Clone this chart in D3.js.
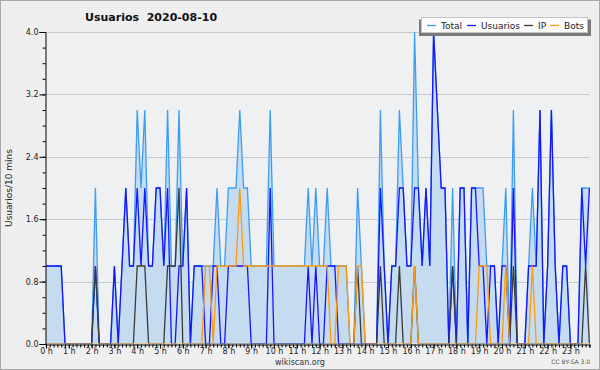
<!DOCTYPE html>
<html><head><meta charset="utf-8">
<script src="https://cdn.jsdelivr.net/npm/d3@7/dist/d3.min.js"></script>
<style>
html,body{margin:0;padding:0;background:#efefef;}
svg{display:block;font-family:"DejaVu Sans",sans-serif;}
</style></head><body>
<svg id="chart" width="600" height="370"></svg>
<script>
// ---- data (one value per 10 minutes, 144 slots) ----
const hourLabels = ["0 h","1 h","2 h","3 h","4 h","5 h","6 h","7 h","8 h","9 h","10 h","11 h",
  "12 h","13 h","14 h","15 h","16 h","17 h","18 h","19 h","20 h","21 h","22 h","23 h"];
const yTicks = [0, 0.8, 1.6, 2.4, 3.2, 4.0];
const seriesNames = ["Total", "Usuarios", "IP", "Bots"];

const total = [
  1,1,1,1,1,0,0,0,0,0,0,0, 0,2,0,0,0,0,1,0,1,2,1,1,
  3,2,3,1,1,2,2,1,3,1,1,3, 1,2,0,1,1,1,1,1,1,2,1,1,
  2,2,2,3,2,2,1,1,1,1,1,3, 1,1,1,1,1,1,1,1,1,2,1,2,
  1,1,2,1,1,1,1,1,0,0,2,1, 0,0,0,0,3,1,0,1,1,3,2,1,
  1,4,2,1,2,1,4,3,2,2,0,2, 0,2,2,0,2,2,2,2,1,1,1,0,
  1,2,0,3,0,0,0,1,2,1,3,0, 1,3,1,0,1,1,0,0,0,2,2,2
];
const usuarios = [
  1,1,1,1,1,0,0,0,0,0,0,0, 0,1,0,0,0,0,1,0,1,2,1,1,
  2,1,2,1,1,2,2,1,2,0,0,1, 1,2,0,1,1,1,0,0,1,1,0,0,
  1,1,1,1,1,1,0,0,0,0,0,2, 0,0,0,0,0,0,0,0,0,1,0,1,
  0,0,1,1,1,0,0,0,0,0,0,0, 0,0,0,0,2,1,0,1,1,2,2,1,
  1,2,2,1,2,1,4,3,2,2,0,1, 0,2,2,0,2,2,1,1,0,1,1,0,
  1,1,0,2,0,0,0,1,1,1,3,0, 1,3,1,0,1,1,0,0,0,2,1,2
];
const ip = [
  0,0,0,0,0,0,0,0,0,0,0,0, 0,1,0,0,0,0,0,0,0,0,0,0,
  1,1,1,0,0,0,0,0,1,1,1,2, 0,0,0,0,0,0,0,0,0,0,0,0,
  0,0,0,0,0,0,0,0,0,0,0,0, 0,0,0,0,0,0,0,0,0,0,0,0,
  0,0,0,0,0,0,0,0,0,0,1,0, 0,0,0,0,1,0,0,0,0,1,0,0,
  0,1,0,0,0,0,0,0,0,0,0,1, 0,0,0,0,0,0,0,0,0,0,0,0,
  0,0,0,1,0,0,0,0,0,0,0,0, 0,0,0,0,0,0,0,0,0,0,1,0
];
const bots = [
  0,0,0,0,0,0,0,0,0,0,0,0, 0,0,0,0,0,0,0,0,0,0,0,0,
  0,0,0,0,0,0,0,0,0,0,0,0, 0,0,0,0,0,0,1,1,0,1,1,1,
  1,1,1,2,1,1,1,1,1,1,1,1, 1,1,1,1,1,1,1,1,1,1,1,1,
  1,1,1,0,0,1,1,1,0,0,1,1, 0,0,0,0,0,0,0,0,0,0,0,0,
  0,1,0,0,0,0,0,0,0,0,0,0, 0,0,0,0,0,0,1,1,1,0,0,0,
  0,1,0,0,0,0,0,0,1,0,0,0, 0,0,0,0,0,0,0,0,0,0,0,0
];

// ---- layout ----
const W = 600, H = 370;
const svg = d3.select("#chart");
const x = d3.scaleLinear().domain([0, 143]).range([46, 589.4]);
const y = d3.scaleLinear().domain([0, 4]).range([344, 32]);
const colors = {Total: "#3d9cf2", Usuarios: "#1515ff", IP: "#3a3a3a", Bots: "#ff9a10"};

// background + frame
svg.append("rect").attr("x", 0.5).attr("y", 0.5).attr("width", W - 1).attr("height", H - 1)
  .attr("fill", "#efefef").attr("stroke", "#a8a8a8");
svg.append("rect").attr("x", x(0)).attr("y", y(4)).attr("width", x(143) - x(0)).attr("height", y(0) - y(4))
  .attr("fill", "#eef0f2");

// grid
svg.append("g").selectAll("line").data(yTicks.filter(d => d > 0)).join("line")
  .attr("x1", x(0)).attr("x2", x(143)).attr("y1", d => Math.round(y(d)) + 0.5).attr("y2", d => Math.round(y(d)) + 0.5)
  .attr("stroke", "#c9c9c9").attr("stroke-width", 1);

// clip so that zero-level lines hide behind the x axis
svg.append("defs").append("clipPath").attr("id", "plotclip")
  .append("rect").attr("x", 40).attr("y", 20).attr("width", 555).attr("height", y(0) - 20 - 0.4);

// area + lines
const idx = d3.range(total.length);
const plot = svg.append("g").attr("clip-path", "url(#plotclip)");
plot.append("path").datum(idx)
  .attr("fill", "#c4dbf0")
  .attr("d", d3.area().x(i => x(i)).y0(y(0)).y1(i => y(total[i])));
const line = arr => d3.line().x(i => x(i)).y(i => y(arr[i]))(idx);
const data = {Total: total, Usuarios: usuarios, IP: ip, Bots: bots};
seriesNames.forEach(k => {
  plot.append("path").attr("d", line(data[k])).attr("fill", "none")
    .attr("stroke", colors[k]).attr("stroke-width", 1.3).attr("stroke-linejoin", "miter");
});

// y axis
const yAxis = d3.axisLeft(y).tickValues(yTicks).tickFormat(d3.format(".1f")).tickSize(6).tickPadding(1);
const gy = svg.append("g").attr("transform", "translate(45.5,0)").call(yAxis);
gy.select(".domain").attr("stroke", "#000");
gy.selectAll("text").attr("font-size", 8).attr("font-family", "DejaVu Sans").attr("fill", "#222");
const yMinor = d3.axisLeft(y).tickValues(d3.range(0, 4.01, 0.2)).tickFormat("").tickSize(3);
svg.append("g").attr("transform", "translate(45.5,0)").call(yMinor).select(".domain").remove();

// x axis
const xMinor = d3.axisBottom(x).tickValues(idx).tickFormat("").tickSize(3);
const gxm = svg.append("g").attr("transform", "translate(0,344.5)").call(xMinor);
gxm.select(".domain").attr("stroke", "#000").attr("stroke-width", 1.2);
const xMajor = d3.axisBottom(x).tickValues(hourLabels.map((d, h) => h * 6))
  .tickFormat((d, i) => hourLabels[i]).tickSize(4).tickPadding(0);
const gx = svg.append("g").attr("transform", "translate(0,344.5)").call(xMajor);
gx.select(".domain").remove();
gx.selectAll("text").attr("font-size", 8).attr("font-family", "DejaVu Sans").attr("fill", "#222")
  .attr("dy", null).attr("y", 9.5);

// titles
svg.append("text").attr("x", 85).attr("y", 21).attr("font-size", 11).attr("font-weight", "bold")
  .attr("fill", "#111").style("white-space", "pre").text("Usuarios  2020-08-10");
svg.append("text").attr("transform", "translate(12,188) rotate(-90)").attr("text-anchor", "middle")
  .attr("font-size", 9).attr("fill", "#222").text("Usuarios/10 mins");
svg.append("text").attr("x", 300).attr("y", 365).attr("text-anchor", "middle")
  .attr("font-size", 8).attr("fill", "#333").text("wikiscan.org");
svg.append("text").attr("x", 590).attr("y", 364).attr("text-anchor", "end")
  .attr("font-size", 6).attr("fill", "#555").text("CC BY-SA 3.0");

// legend
const lg = svg.append("g");
lg.append("rect").attr("x", 419).attr("y", 19.5).attr("width", 172).attr("height", 16.5).attr("fill", "#7a7a7a");
lg.append("rect").attr("x", 421.5).attr("y", 17.5).attr("width", 166).attr("height", 15)
  .attr("fill", "#fdfdfd").attr("stroke", "#c4c4c4");
const legX = [427, 467, 524, 550];
seriesNames.forEach((k, j) => {
  lg.append("line").attr("x1", legX[j]).attr("x2", legX[j] + 9).attr("y1", 25.5).attr("y2", 25.5)
    .attr("stroke", colors[k]).attr("stroke-width", 1.3);
  lg.append("text").attr("x", legX[j] + 14).attr("y", 28.5).attr("font-size", 9).attr("fill", "#222").text(k);
});
</script>
</body></html>
